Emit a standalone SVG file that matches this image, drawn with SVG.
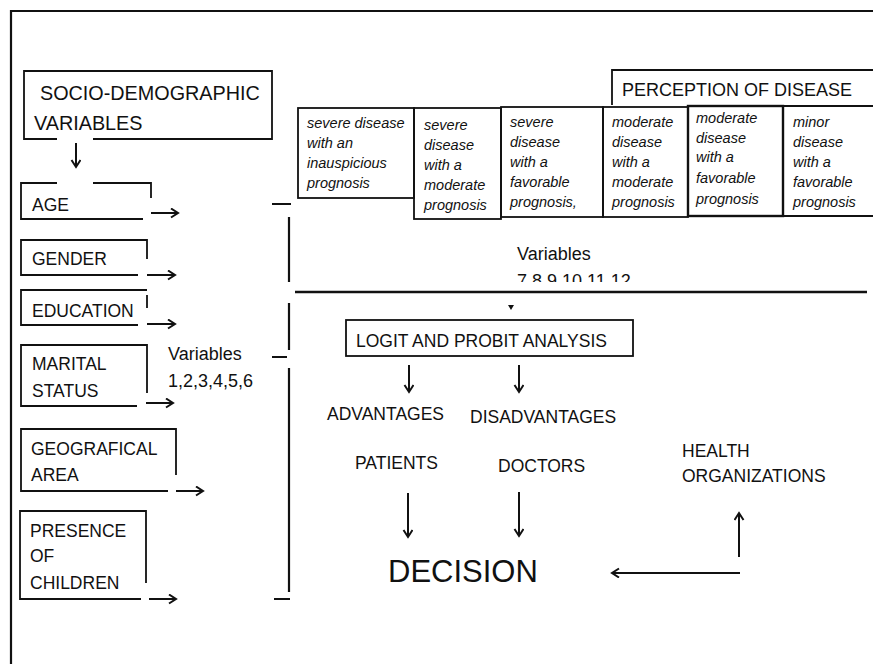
<svg xmlns="http://www.w3.org/2000/svg" width="873" height="664" viewBox="0 0 873 664">
<style>
.t{font-family:"Liberation Sans",Arial,sans-serif;font-size:17.5px;fill:#111}
.i{font-family:"Liberation Sans",Arial,sans-serif;font-size:14.5px;font-style:italic;fill:#111}
.b{fill:none;stroke:#111;stroke-width:1.8}
.l{fill:none;stroke:#111;stroke-width:2.2}
.a{fill:none;stroke:#111;stroke-width:2;marker-end:url(#ah)}
</style>
<defs>
<marker id="ah" markerUnits="userSpaceOnUse" markerWidth="12" markerHeight="12" refX="9" refY="5" orient="auto">
<path d="M2,0.5 L9,5 L2,9.5" fill="none" stroke="#111" stroke-width="2"/>
</marker>
<clipPath id="clipv"><rect x="500" y="230" width="200" height="52"/></clipPath>
</defs>
<rect width="873" height="664" fill="#fff"/>
<path class="l" d="M11,664 V11 H873"/>

<g id="socio">
<path class="b" d="M57,139 H24 V71 H272 V139 H93"/>
<text class="t" x="40" y="100" style="font-size:19.8px">SOCIO-DEMOGRAPHIC</text>
<text class="t" x="34" y="130" style="font-size:19.8px">VARIABLES</text>
</g>
<g id="age">
<path class="b" d="M57,183 H21 V219 H143 M93,183 H151 V198"/>
<text class="t" x="32" y="211">AGE</text>
</g>
<g id="gender">
<path class="b" d="M147,259 V240 H21 V275 H138"/>
<text class="t" x="32" y="265">GENDER</text>
</g>
<g id="education">
<path class="b" d="M147,290 H21 V325 H138 M147,295 V308"/>
<text class="t" x="32" y="317">EDUCATION</text>
</g>
<g id="marital">
<path class="b" d="M147,393 V345 H21 V406 H137"/>
<text class="t" x="32" y="370">MARITAL</text>
<text class="t" x="32" y="397">STATUS</text>
</g>
<g id="geo">
<path class="b" d="M176,475 V429 H21 V491 H168"/>
<text class="t" x="31" y="455">GEOGRAFICAL</text>
<text class="t" x="31" y="481">AREA</text>
</g>
<g id="presence">
<path class="b" d="M146,583 V511 H20 V599 H141"/>
<text class="t" x="30" y="537">PRESENCE</text>
<text class="t" x="30" y="562">OF</text>
<text class="t" x="30" y="589">CHILDREN</text>
</g>
<g id="vars16">
<text class="t" x="168" y="360" style="font-size:18px">Variables</text>
<text class="t" x="168" y="387" style="font-size:18px">1,2,3,4,5,6</text>
</g>

<g id="perception">
<path class="b" d="M612,105 V70 H873"/>
<text class="t" x="622" y="96" style="font-size:18px">PERCEPTION OF DISEASE</text>
</g>
<g id="p1">
<rect class="b" x="298" y="108" width="116" height="90"/>
<text class="i" x="307" y="128">severe disease</text>
<text class="i" x="307" y="148">with an</text>
<text class="i" x="307" y="168">inauspicious</text>
<text class="i" x="307" y="188">prognosis</text>
</g>
<g id="p2">
<rect class="b" x="414" y="108" width="87" height="111"/>
<text class="i" x="424" y="130">severe</text>
<text class="i" x="424" y="150">disease</text>
<text class="i" x="424" y="170">with a</text>
<text class="i" x="424" y="190">moderate</text>
<text class="i" x="424" y="210">prognosis</text>
</g>
<g id="p3">
<rect class="b" x="501" y="107" width="102" height="110"/>
<text class="i" x="510" y="127">severe</text>
<text class="i" x="510" y="147">disease</text>
<text class="i" x="510" y="167">with a</text>
<text class="i" x="510" y="187">favorable</text>
<text class="i" x="510" y="207">prognosis,</text>
</g>
<g id="p4">
<rect class="b" x="603" y="107" width="85" height="110"/>
<text class="i" x="612" y="127">moderate</text>
<text class="i" x="612" y="147">disease</text>
<text class="i" x="612" y="167">with a</text>
<text class="i" x="612" y="187">moderate</text>
<text class="i" x="612" y="207">prognosis</text>
</g>
<g id="p5">
<rect class="b" x="688" y="106" width="95" height="110" style="stroke-width:2.4"/>
<text class="i" x="696" y="123">moderate</text>
<text class="i" x="696" y="143">disease</text>
<text class="i" x="696" y="162">with a</text>
<text class="i" x="696" y="183">favorable</text>
<text class="i" x="696" y="204">prognosis</text>
</g>
<g id="p6">
<path class="b" d="M873,106 H783 V216 H873"/>
<text class="i" x="793" y="127">minor</text>
<text class="i" x="793" y="147">disease</text>
<text class="i" x="793" y="167">with a</text>
<text class="i" x="793" y="187">favorable</text>
<text class="i" x="793" y="207">prognosis</text>
</g>
<g id="vars712">
<text class="t" x="517" y="260" style="font-size:18px">Variables</text>
<text class="t" x="517" y="287" style="font-size:18px" clip-path="url(#clipv)">7,8,9,10,11,12</text>
</g>

<g id="logit">
<rect class="b" x="346" y="320" width="287" height="36"/>
<text class="t" x="356" y="347">LOGIT AND PROBIT ANALYSIS</text>
</g>
<g id="advantages"><text class="t" x="327" y="420">ADVANTAGES</text></g>
<g id="disadvantages"><text class="t" x="470" y="423">DISADVANTAGES</text></g>
<g id="patients"><text class="t" x="355" y="469">PATIENTS</text></g>
<g id="doctors"><text class="t" x="498" y="472">DOCTORS</text></g>
<g id="decision"><text class="t" x="388" y="582" style="font-size:31px">DECISION</text></g>
<g id="health">
<text class="t" x="682" y="457">HEALTH</text>
<text class="t" x="682" y="482">ORGANIZATIONS</text>
</g>

<g id="connectors">
<path class="a" d="M76,143 V167"/>
<path class="a" d="M151,213 H178"/>
<path class="a" d="M147,275 H175"/>
<path class="a" d="M147,324 H175"/>
<path class="a" d="M146,403 H173"/>
<path class="a" d="M176,491 H203"/>
<path class="a" d="M149,599 H176"/>
<path class="l" d="M272,204 H291 M289,217 V282 M289,303 V350 M289,368 V592 M272,357 H287 M274,599 H290"/>
<path class="l" d="M295,292 H867" style="stroke-width:2.6"/>
<path d="M508,305 H514 L511,310 Z" fill="#111"/>
<path class="a" d="M409,365 V392"/>
<path class="a" d="M519,365 V392"/>
<path class="a" d="M408,493 V537"/>
<path class="a" d="M519,492 V536"/>
<path class="a" d="M739,557 V513"/>
<path class="a" d="M740,573 H612"/>
</g>
</svg>
